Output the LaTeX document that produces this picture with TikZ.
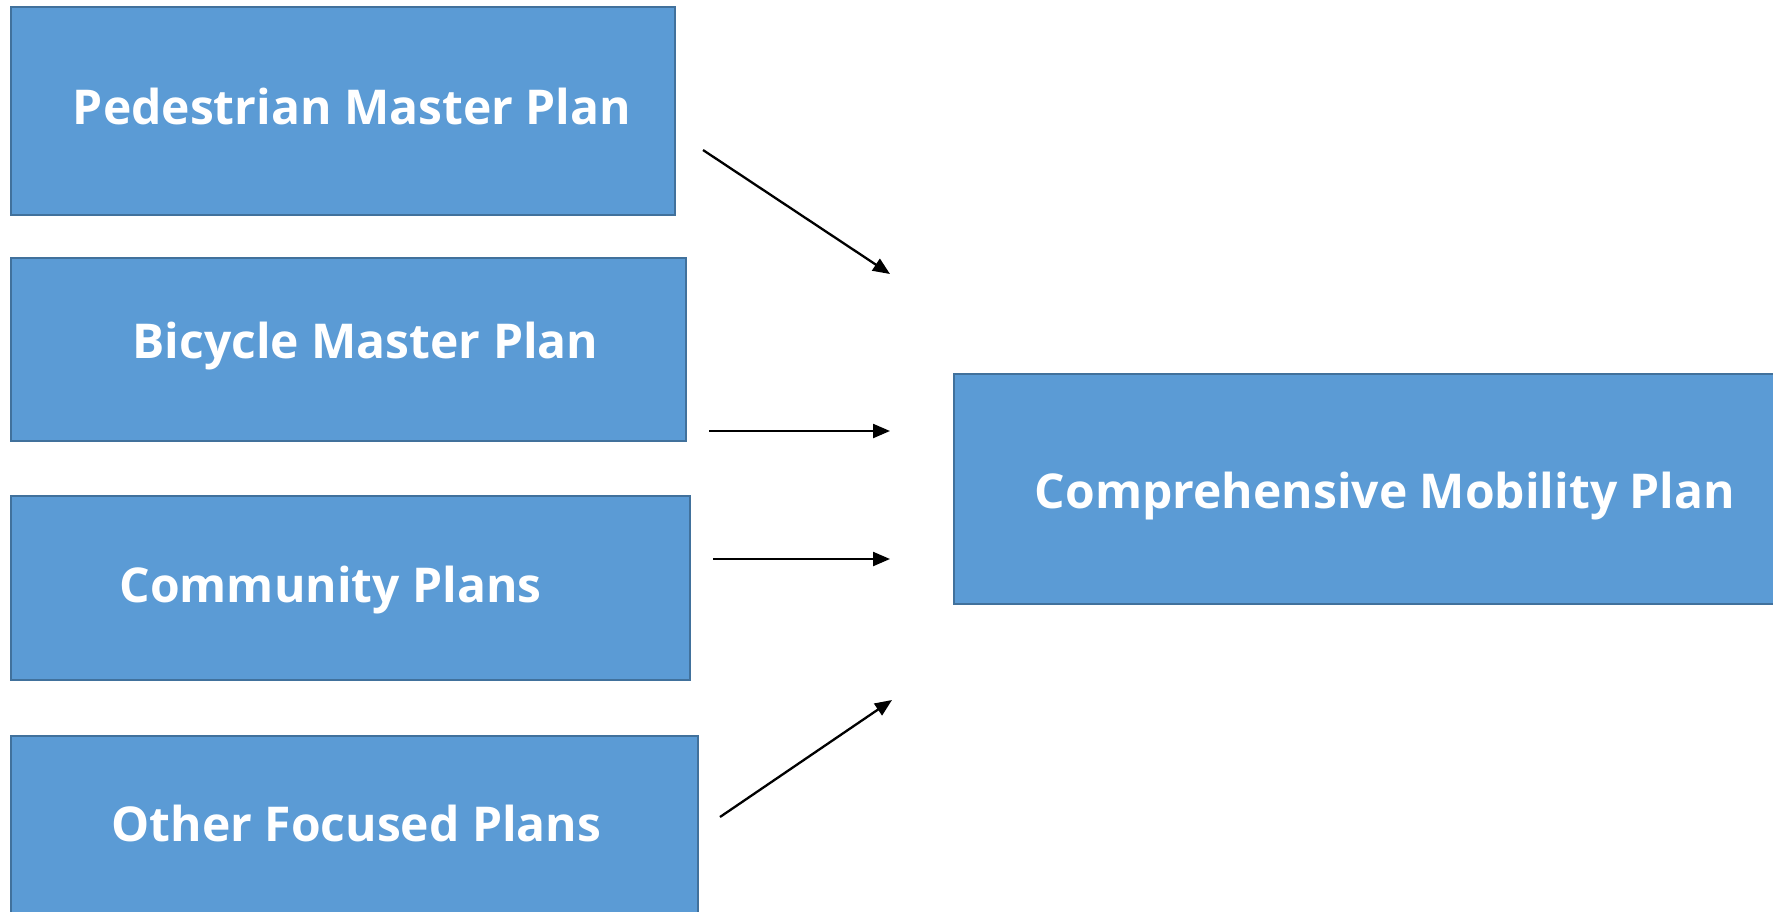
\documentclass[tikz,border=0pt]{standalone}
\usepackage{fontspec}
\setmainfont{Open Sans}
\usepackage{tikz}
\usetikzlibrary{arrows.meta,positioning,calc}

\definecolor{planfill}{HTML}{5B9BD5}
\definecolor{planedge}{HTML}{41719C}

\begin{document}
\begin{tikzpicture}[x=1pt,y=-1pt,
  plan/.style={rectangle,draw=planedge,fill=planfill,line width=2.5pt,text=white,font=\fontsize{48}{56}\selectfont\bfseries},
  feed/.style={-{Triangle[length=17pt,width=14pt]},line width=2.3pt}]
\useasboundingbox (0,0) rectangle (1773,911);

% plans on the left
\node[plan,minimum width=664pt, minimum height=208pt, name=ped] at (343,111) {\hspace*{18pt}\raisebox{4.5pt}[\height][\depth]{Pedestrian Master Plan}};
\node[plan,minimum width=675pt, minimum height=183pt, name=bike] at (348.5,349.5) {\hspace*{34pt}\raisebox{3.5pt}[\height][\depth]{Bicycle Master Plan}};
\node[plan,minimum width=679pt, minimum height=184pt, name=community] at (350.5,588) {\raisebox{-2.5pt}[\height][\depth]{Community Plans}\hspace*{40pt}};
\node[plan,minimum width=687pt, minimum height=184pt, name=other] at (354.5,828) {\hspace*{4pt}\raisebox{4.5pt}[\height][\depth]{Other Focused Plans}};

% mobility plan
\node[plan,minimum width=862pt, minimum height=230pt, name=cmp] at (1385,489) {\raisebox{-7pt}[\height][\depth]{Comprehensive Mobility Plan}};

% arrow ends
\coordinate (ped_out) at (703,150);
\coordinate (bike_out) at (709,431);
\coordinate (community_out) at (713,559);
\coordinate (other_out) at (720,817);
\coordinate (cmp_in1) at (890,274);
\coordinate (cmp_in2) at (890,431);
\coordinate (cmp_in3) at (890,559);
\coordinate (cmp_in4) at (892,700);

% arrows
\draw[feed] (ped_out) -- (cmp_in1);
\draw[feed] (bike_out) -- (cmp_in2);
\draw[feed] (community_out) -- (cmp_in3);
\draw[feed] (other_out) -- (cmp_in4);
\end{tikzpicture}
\end{document}
